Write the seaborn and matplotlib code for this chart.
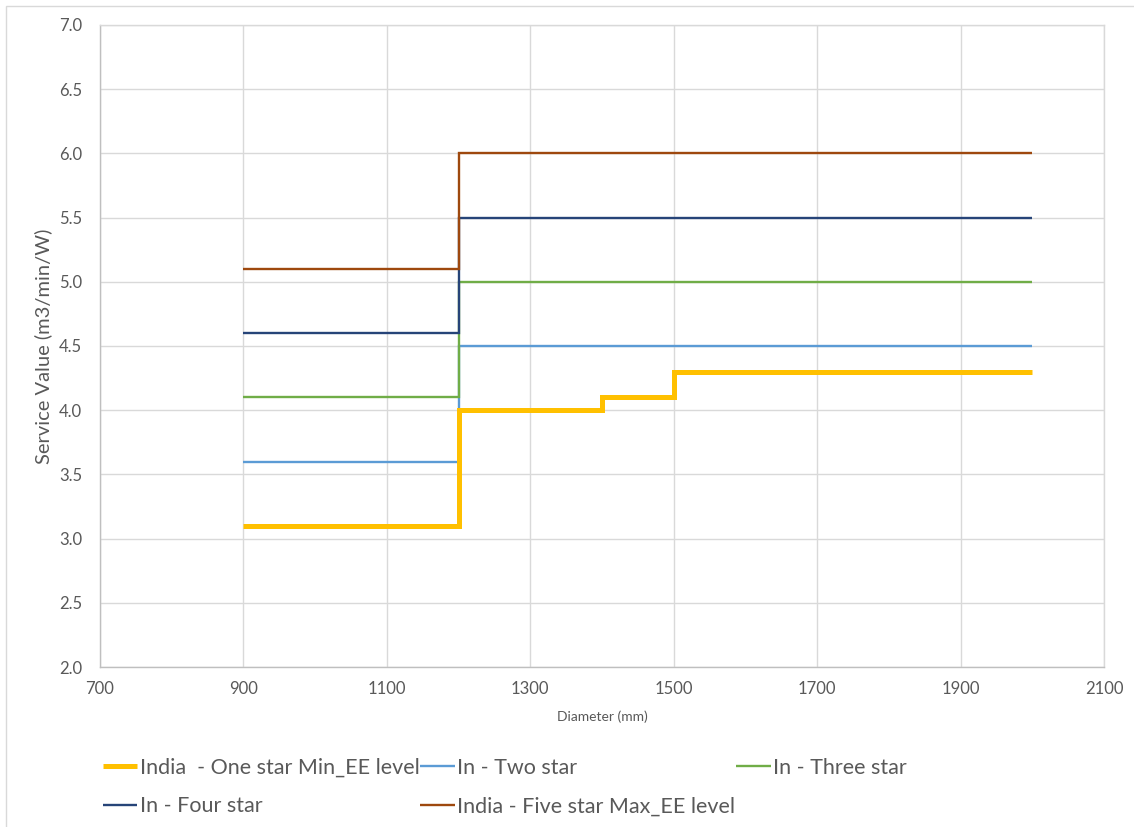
import numpy as np
import pandas as pd
import matplotlib
matplotlib.use("Agg")
import matplotlib.pyplot as plt
import seaborn as sns
from matplotlib.patches import Rectangle

# ================= Data =================
one_star_x = [900, 1200, 1200, 1400, 1400, 1500, 1500, 2000]
one_star_y = [3.1, 3.1, 4.0, 4.0, 4.1, 4.1, 4.3, 4.3]

step_x = [900, 1200, 1200, 2000]
two_star_y = [3.6, 3.6, 4.5, 4.5]
three_star_y = [4.1, 4.1, 5.0, 5.0]
four_star_y = [4.6, 4.6, 5.5, 5.5]
five_star_y = [5.1, 5.1, 6.0, 6.0]

series_names = ["India  - One star Min_EE level", "In - Two star", "In - Three star",
                "In - Four star", "India - Five star Max_EE level"]

x_ticks = [700, 900, 1100, 1300, 1500, 1700, 1900, 2100]
y_ticks = [2.0, 2.5, 3.0, 3.5, 4.0, 4.5, 5.0, 5.5, 6.0, 6.5, 7.0]

COLORS = {series_names[0]: "#FFC000", series_names[1]: "#5B9BD5",
          series_names[2]: "#70AD47", series_names[3]: "#264478",
          series_names[4]: "#9E480E"}
WIDTHS = {series_names[0]: 3.6, series_names[1]: 1.7, series_names[2]: 1.7,
          series_names[3]: 1.7, series_names[4]: 1.7}

frames = [pd.DataFrame({"x": one_star_x, "y": one_star_y, "s": series_names[0]})]
for name, ys in zip(series_names[1:], [two_star_y, three_star_y, four_star_y, five_star_y]):
    frames.append(pd.DataFrame({"x": step_x, "y": ys, "s": name}))
df = pd.concat(frames, ignore_index=True)

# ================= Plot =================
sns.set_style("white")
plt.rcParams['font.family'] = ['Lato', 'DejaVu Sans']
TXT = "#595959"
GRID = "#d9d9d9"

fig = plt.figure(figsize=(11.34, 8.27), dpi=100)
ax = fig.add_axes([100 / 1134, 1 - 667 / 827, 1004 / 1134, 642 / 827])

# thin ones first, one-star on top
for name in series_names[1:] + series_names[:1]:
    sub = df[df["s"] == name]
    sns.lineplot(data=sub, x="x", y="y", sort=False, estimator=None, ax=ax,
                 color=COLORS[name], linewidth=WIDTHS[name], label=name,
                 solid_joinstyle='miter', solid_capstyle='butt', zorder=3)

ax.set_xlim(700, 2100)
ax.set_ylim(2.0, 7.0)
ax.set_xticks(x_ticks)
ax.set_yticks(y_ticks)
ax.set_yticklabels([f"{v:.1f}" for v in y_ticks])
ax.grid(True, color=GRID, linewidth=1.0)
ax.set_axisbelow(True)
for sp in ax.spines.values():
    sp.set_color(GRID)
    sp.set_linewidth(1.0)
ax.spines['left'].set_color("#bfbfbf")
ax.spines['bottom'].set_color("#bfbfbf")
ax.tick_params(axis='both', length=0, colors=TXT, labelsize=12)
ax.tick_params(axis='y', pad=13)
ax.tick_params(axis='x', pad=10)
ax.set_xlabel("Diameter (mm)", fontsize=10, color=TXT, labelpad=10)
ax.set_ylabel("Service Value (m3/min/W)", fontsize=14.5, color=TXT, labelpad=5)

# legend in Excel row order: reorder for column-first filling
handles, labels = ax.get_legend_handles_labels()
lookup = dict(zip(labels, handles))
order = [series_names[0], series_names[3], series_names[1], series_names[4], series_names[2]]
leg = fig.legend([lookup[n] for n in order], order, loc='upper left',
                 bbox_to_anchor=(103 / 1134, 1 - 758 / 827), ncol=3, frameon=False,
                 fontsize=15.5, handlelength=1.6, handletextpad=0.1, columnspacing=0.05,
                 labelspacing=0.85, borderpad=0, borderaxespad=0)
for t in leg.get_texts():
    t.set_color(TXT)
if ax.get_legend():
    ax.get_legend().remove()

# outer chart border
fig.add_artist(Rectangle((6 / 1134, -0.1), 1.2, 1 - 6 / 827 + 0.1, transform=fig.transFigure,
                         fill=False, edgecolor=GRID, linewidth=1.0))

fig.savefig("out.png", dpi=100)
plt.close(fig)
